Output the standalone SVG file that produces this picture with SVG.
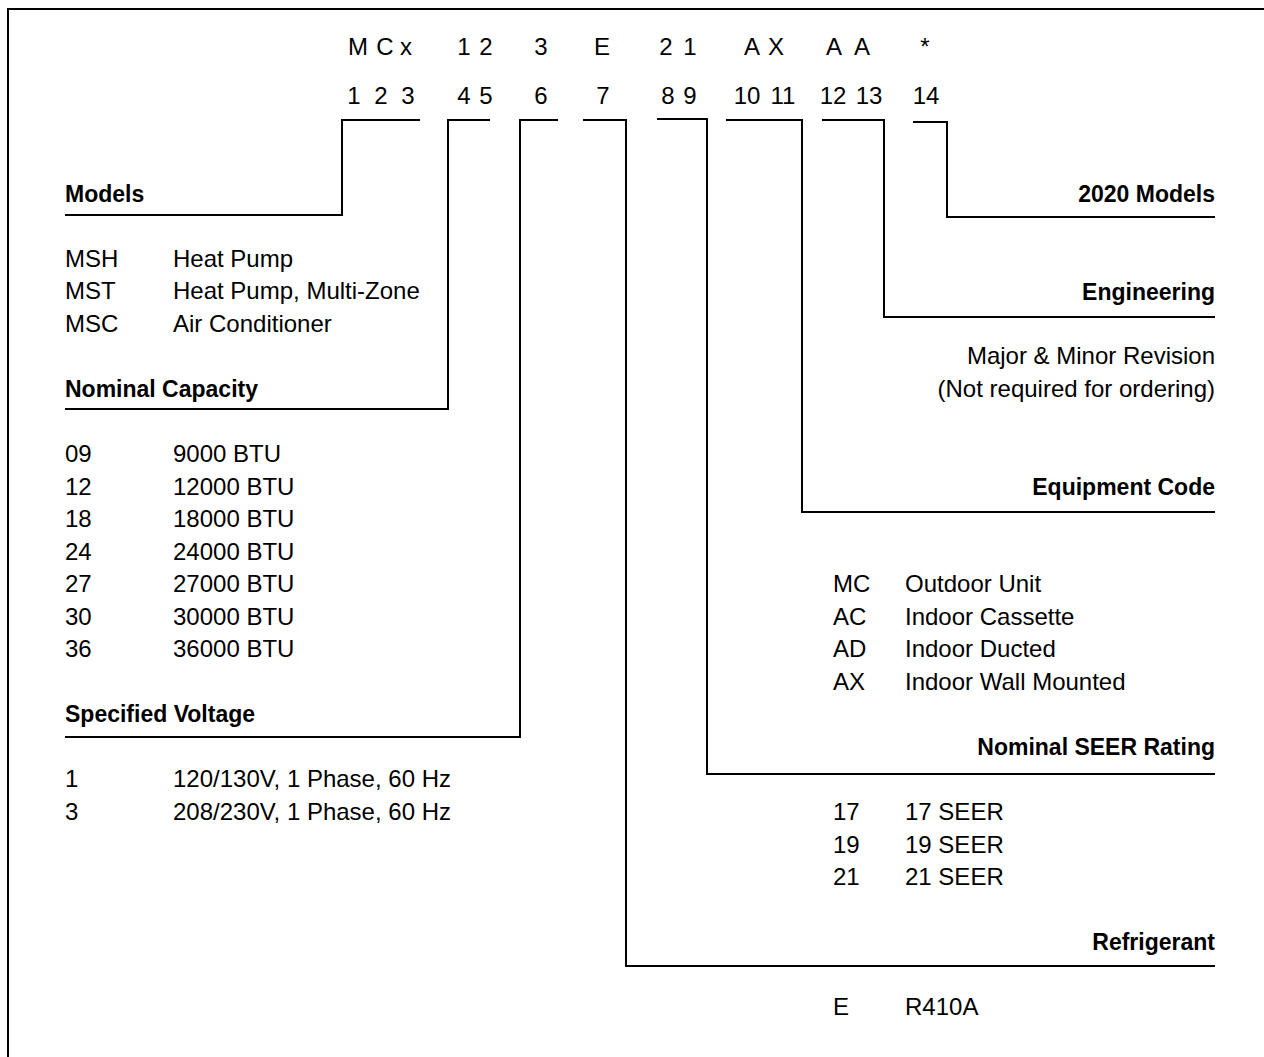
<svg xmlns="http://www.w3.org/2000/svg" width="1264" height="1057" viewBox="0 0 1264 1057">
<style>
text{font-family:"Liberation Sans",Arial,sans-serif;font-size:24px;fill:#000}
.h{font-weight:bold;font-size:23px}
.r{text-anchor:end}
.c{text-anchor:middle}
.ln{fill:none;stroke:#000;stroke-width:2}
</style>
<rect width="1264" height="1057" fill="#fff"/>
<path class="ln" d="M8,1057 V9 H1264" stroke-width="2.5"/>
<g id="code">
<text class="c" x="358" y="55">M</text><text class="c" x="385" y="55">C</text><text class="c" x="406" y="55">x</text>
<text class="c" x="464" y="55">1</text><text class="c" x="486" y="55">2</text>
<text class="c" x="541" y="55">3</text>
<text class="c" x="602" y="55">E</text>
<text class="c" x="666" y="55">2</text><text class="c" x="690" y="55">1</text>
<text class="c" x="752" y="55">A</text><text class="c" x="776" y="55">X</text>
<text class="c" x="834" y="55">A</text><text class="c" x="862" y="55">A</text>
<text class="c" x="925" y="55">*</text>
<text class="c" x="354" y="104">1</text><text class="c" x="381" y="104">2</text><text class="c" x="408" y="104">3</text>
<text class="c" x="464" y="104">4</text><text class="c" x="486" y="104">5</text>
<text class="c" x="541" y="104">6</text>
<text class="c" x="603" y="104">7</text>
<text class="c" x="668" y="104">8</text><text class="c" x="690" y="104">9</text>
<text class="c" x="747" y="104">10</text><text class="c" x="783" y="104">11</text>
<text class="c" x="833" y="104">12</text><text class="c" x="869" y="104">13</text>
<text class="c" x="926" y="104">14</text>
</g>
<g id="connectors">
<path class="ln" d="M420,120 H342 V215 H65"/>
<path class="ln" d="M490,120 H448 V409 H65"/>
<path class="ln" d="M558,120 H520 V737 H65"/>
<path class="ln" d="M583,120 H626 V966 H1215"/>
<path class="ln" d="M657,119 H707 V774 H1215"/>
<path class="ln" d="M726,120 H802 V512 H1215"/>
<path class="ln" d="M822,120 H884 V317 H1215"/>
<path class="ln" d="M913,122 H947 V217 H1215"/>
</g>
<g id="models">
<text class="h" x="65" y="202">Models</text>
<text x="65" y="267">MSH</text><text x="173" y="267">Heat Pump</text>
<text x="65" y="299">MST</text><text x="173" y="299">Heat Pump, Multi-Zone</text>
<text x="65" y="332">MSC</text><text x="173" y="332">Air Conditioner</text>
</g>
<g id="capacity">
<text class="h" x="65" y="397">Nominal Capacity</text>
<text x="65" y="462">09</text><text x="173" y="462">9000 BTU</text>
<text x="65" y="495">12</text><text x="173" y="495">12000 BTU</text>
<text x="65" y="527">18</text><text x="173" y="527">18000 BTU</text>
<text x="65" y="560">24</text><text x="173" y="560">24000 BTU</text>
<text x="65" y="592">27</text><text x="173" y="592">27000 BTU</text>
<text x="65" y="625">30</text><text x="173" y="625">30000 BTU</text>
<text x="65" y="657">36</text><text x="173" y="657">36000 BTU</text>
</g>
<g id="voltage">
<text class="h" x="65" y="722">Specified Voltage</text>
<text x="65" y="787">1</text><text x="173" y="787">120/130V, 1 Phase, 60 Hz</text>
<text x="65" y="820">3</text><text x="173" y="820">208/230V, 1 Phase, 60 Hz</text>
</g>
<g id="models2020">
<text class="h r" x="1215" y="202">2020 Models</text>
</g>
<g id="engineering">
<text class="h r" x="1215" y="300">Engineering</text>
<text class="r" x="1215" y="364">Major &amp; Minor Revision</text>
<text class="r" x="1215" y="397">(Not required for ordering)</text>
</g>
<g id="equipment">
<text class="h r" x="1215" y="495">Equipment Code</text>
<text x="833" y="592">MC</text><text x="905" y="592">Outdoor Unit</text>
<text x="833" y="625">AC</text><text x="905" y="625">Indoor Cassette</text>
<text x="833" y="657">AD</text><text x="905" y="657">Indoor Ducted</text>
<text x="833" y="690">AX</text><text x="905" y="690">Indoor Wall Mounted</text>
</g>
<g id="seer">
<text class="h r" x="1215" y="755">Nominal SEER Rating</text>
<text x="833" y="820">17</text><text x="905" y="820">17 SEER</text>
<text x="833" y="853">19</text><text x="905" y="853">19 SEER</text>
<text x="833" y="885">21</text><text x="905" y="885">21 SEER</text>
</g>
<g id="refrigerant">
<text class="h r" x="1215" y="950">Refrigerant</text>
<text x="833" y="1015">E</text><text x="905" y="1015">R410A</text>
</g>
</svg>
